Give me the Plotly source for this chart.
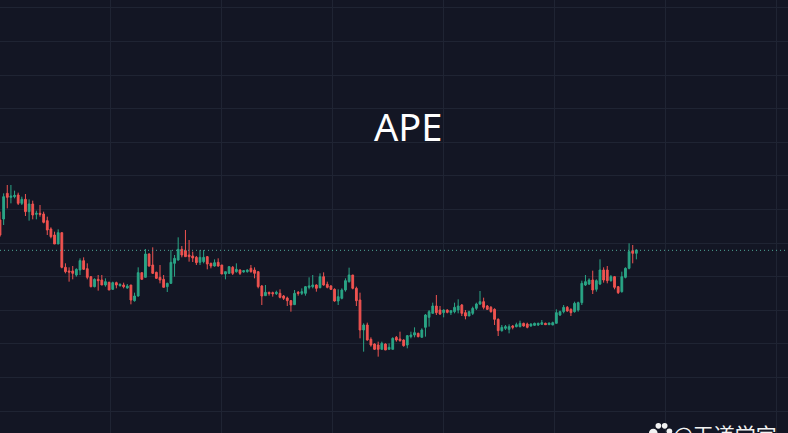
import plotly.graph_objects as go

title = "APE"
watermark = "@天道学宫"
rows = """639 664 589 594
642 719 624 709
719 744 674 707
707 744 689 711
709 727 704 713
714 721 684 689
689 709 684 701
701 717 651 664
664 701 637 687
687 697 641 654
656 667 641 659
659 684 649 656
657 664 629 632
637 649 594 609
612 617 584 589
594 604 567 567
567 611 567 601
601 601 494 497
497 509 479 484
486 497 454 483
486 501 461 479
474 494 469 491
489 524 474 517
517 527 489 491
493 509 461 467
469 471 437 439
439 464 437 461
461 474 427 457
459 474 444 444
444 464 439 454
452 454 429 429
431 454 429 451
451 454 434 444
442 449 439 446
444 451 434 439
435 447 433 441
444 444 386 399
397 421 394 411
411 497 409 481
481 481 461 461
467 552 467 537
537 539 499 501
504 557 477 479
482 484 463 464
467 504 449 459
461 474 437 437
439 451 423 449
449 549 447 512
509 534 469 524
519 587 517 551
551 561 527 534
547 609 529 529
534 579 514 529
531 544 513 525
527 531 504 511
512 549 504 527
514 549 509 527
529 531 491 507
509 511 494 501
501 521 499 511
512 524 499 501
504 504 477 477
477 484 461 484
479 501 477 499
497 501 474 479
484 509 481 491
489 491 474 479
483 489 481 487
484 491 481 489
494 504 481 484
489 497 464 479
484 484 434 439
441 444 384 411
412 444 412 422
422 424 412 418
421 424 409 418
418 427 414 422
419 431 404 407
411 414 399 404
405 409 381 397
397 399 364 384
385 429 384 419
422 426 412 419
419 434 414 424
419 441 412 439
437 467 431 441
439 474 434 444
444 446 424 434
436 479 434 469
469 482 442 444
446 454 434 437
441 444 429 431
431 434 394 396
396 431 384 409
404 434 401 429
429 464 424 457
454 496 451 474
474 474 431 434
434 439 381 397
399 421 284 309
309 329 244 324
324 331 277 279
281 287 259 264
267 269 249 251
264 274 229 251
251 274 251 269
267 269 249 249
251 269 251 257
251 287 251 284
287 291 274 279
282 304 274 277
279 281 259 262
264 294 254 292
289 304 284 294
294 317 287 301
299 301 287 289
287 314 287 309
317 357 289 354
347 369 319 364
359 391 359 381
381 414 354 361
369 381 354 357
361 371 347 369
369 371 359 362
361 369 354 367
364 391 359 377
369 401 359 381
384 387 351 359
361 369 341 351
351 367 351 364
359 379 354 374
374 391 369 387
387 426 384 394
394 406 371 377
381 384 369 371
377 381 361 364
371 374 324 341
341 344 291 307
307 324 304 317
314 324 309 319
311 326 299 319
321 324 311 317
319 331 317 325
319 337 317 329
329 331 319 321
327 331 314 317
321 329 319 327
323 331 321 329
324 331 321 329
326 339 324 331
329 331 324 325
325 331 324 330
324 334 324 331
329 371 329 361
354 367 351 364
364 384 359 377
377 381 364 366
371 374 351 361
364 394 361 389
369 394 364 391
391 457 384 449
444 474 441 454
447 464 444 459
459 487 417 429
431 461 424 457
447 521 444 489
489 497 451 459
489 501 449 457
457 474 454 469
469 471 431 437
439 441 417 421
424 484 421 469
467 497 464 494
494 569 491 544
547 564 509 539
539 551 521 549"""
parsed = [[float(v) for v in r.split()] for r in rows.splitlines()]
opens = [r[0] for r in parsed]
highs = [r[1] for r in parsed]
lows = [r[2] for r in parsed]
closes = [r[3] for r in parsed]
index = list(range(len(opens)))

BG = "#131624"
GRID = "#1f2433"
UP = "#2aa586"
DOWN = "#ef5350"

fig = go.Figure(go.Candlestick(
    x=index, open=opens, high=highs, low=lows, close=closes,
    whiskerwidth=0,
    increasing=dict(line=dict(color=UP, width=1), fillcolor=UP),
    decreasing=dict(line=dict(color=DOWN, width=1), fillcolor=DOWN),
    hoverinfo="skip",
))
fig.add_shape(type="line", xref="paper", x0=0, x1=1, yref="y",
              y0=closes[-1] - 1, y1=closes[-1] - 1,
              line=dict(color="#4fa898", width=1, dash="1px,3px"))
fig.add_annotation(text=title, xref="paper", yref="paper", x=0.518, y=0.709,
                   xanchor="center", yanchor="middle", showarrow=False,
                   font=dict(family="Noto Sans", size=38, color="#ffffff"))
fig.add_annotation(text=watermark, xref="paper", yref="paper", x=0.852, y=-0.003,
                   xanchor="left", yanchor="middle", showarrow=False,
                   font=dict(family="Noto Sans CJK SC", size=21, color="#f2f2f2"))
# paw mark of the watermark
for cx, cy, r in [(0.829, 0.0, 0.0055), (0.8355, 0.0165, 0.0036), (0.8435, 0.0165, 0.0036), (0.8495, 0.004, 0.0036)]:
    fig.add_shape(type="circle", xref="paper", yref="paper",
                  x0=cx - r, x1=cx + r, y0=cy - r * 1.8, y1=cy + r * 1.8,
                  fillcolor="#f2f2f2", line_width=0)

fig.update_layout(
    width=788, height=433, margin=dict(l=0, r=0, t=0, b=0),
    paper_bgcolor=BG, plot_bgcolor=BG, showlegend=False,
    xaxis=dict(range=[0, 216.7], tick0=30.25, dtick=30.53, showticklabels=False, ticks="",
               gridcolor=GRID, gridwidth=1, zeroline=False, showline=False,
               rangeslider=dict(visible=False)),
    yaxis=dict(range=[0, 1299], tick0=66, dtick=100.8, showticklabels=False, ticks="",
               gridcolor=GRID, gridwidth=1, zeroline=False, showline=False),
)
fig.write_html("out.html", config=dict(displayModeBar=False), default_width=788, default_height=433,
               post_script="document.body.style.margin='0';document.body.style.overflow='hidden';")
